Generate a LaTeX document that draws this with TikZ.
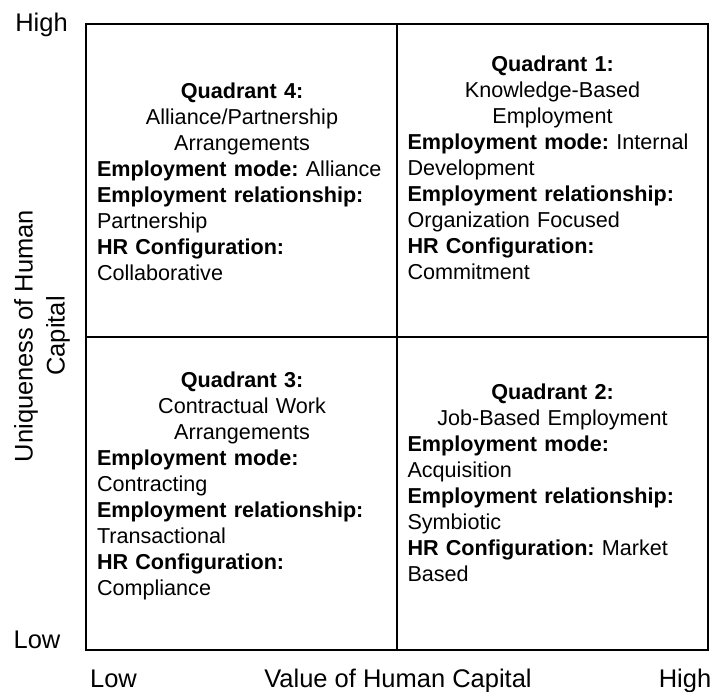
\documentclass[tikz,border=0pt]{standalone}
\usepackage{fontspec}
\setmainfont{Liberation Sans}

% centred heading line inside a left aligned quadrant text
\newcommand{\quadhead}[1]{\makebox[\linewidth]{#1}}

\begin{document}
\frenchspacing
\begin{tikzpicture}[x=1pt,y=-1pt]
	\tikzstyle{matrixline}=[line width=1.5pt, draw=black]
	\tikzstyle{quadtext}=[text width=290pt, align=left, inner sep=0pt, anchor=base, font=\fontsize{21.6}{26}\selectfont]
	\tikzstyle{axislabel}=[inner sep=0pt, anchor=base, font=\fontsize{25.5}{32}\selectfont]

	\useasboundingbox (0,0) rectangle (722,692);

	% the 2x2 grid
	\coordinate (nw) at (86,24);
	\coordinate (se) at (708,650);
	\coordinate (mid) at (397,337);
	\draw[matrixline] (nw) rectangle (se);
	\draw[matrixline] (mid |- nw) -- (mid |- se);
	\draw[matrixline] (mid -| nw) -- (mid -| se);

	% quadrants
	\node[quadtext] (quad4) at (242,99) {\quadhead{\textbf{Quadrant 4:}}\\
		\quadhead{Alliance/Partnership}\\
		\quadhead{Arrangements}\\
		\textbf{Employment mode:} Alliance\\
		\textbf{Employment relationship:}\\
		Partnership\\
		\textbf{HR Configuration:}\\
		Collaborative};
	\node[quadtext] (quad1) at (552.5,72) {\quadhead{\textbf{Quadrant 1:}}\\
		\quadhead{Knowledge-Based}\\
		\quadhead{Employment}\\
		\textbf{Employment mode:} Internal\\
		Development\\
		\textbf{Employment relationship:}\\
		Organization Focused\\
		\textbf{HR Configuration:}\\
		Commitment};
	\node[quadtext] (quad3) at (242,387) {\quadhead{\textbf{Quadrant 3:}}\\
		\quadhead{Contractual Work}\\
		\quadhead{Arrangements}\\
		\textbf{Employment mode:}\\
		Contracting\\
		\textbf{Employment relationship:}\\
		Transactional\\
		\textbf{HR Configuration:}\\
		Compliance};
	\node[quadtext] (quad2) at (552.5,399) {\quadhead{\textbf{Quadrant 2:}}\\
		\quadhead{Job-Based Employment}\\
		\textbf{Employment mode:}\\
		Acquisition\\
		\textbf{Employment relationship:}\\
		Symbiotic\\
		\textbf{HR Configuration:} Market\\
		Based};

	% axes
	\node[axislabel] (yhigh) at (41.5,32) {High};
	\node[axislabel] (ylow) at (37,648) {Low};
	\node[axislabel, rotate=90, align=center, anchor=center] (ytitle) at (42,336) {Uniqueness of Human\\Capital};
	\node[axislabel] (xlow) at (113.5,687) {Low};
	\node[axislabel] (xtitle) at (398,687) {Value of Human Capital};
	\node[axislabel] (xhigh) at (685,687) {High};
\end{tikzpicture}
\end{document}
